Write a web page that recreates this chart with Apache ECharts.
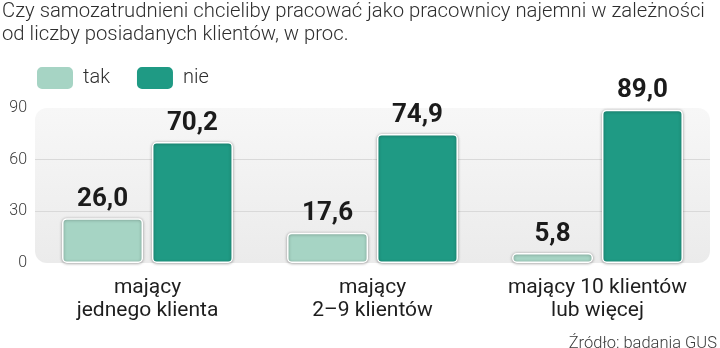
<!DOCTYPE html>
<html>
<head>
<meta charset="utf-8">
<script src="https://cdn.jsdelivr.net/npm/echarts@6/dist/echarts.min.js"></script>
<style>html,body{margin:0;padding:0;background:#fff}#c{width:720px;height:348px}</style>
</head>
<body>
<div id="c"></div>
<script>
const titleText = 'Czy samozatrudnieni chcieliby pracować jako pracownicy najemni w zależności\nod liczby posiadanych klientów, w proc.';
const sourceText = 'Źródło: badania GUS';
const categories = ['mający\njednego klienta', 'mający\n2–9 klientów', 'mający 10 klientów\nlub więcej'];
const seriesNames = ['tak', 'nie'];
const takValues = [26.0, 17.6, 5.8];
const nieValues = [70.2, 74.9, 89.0];
const yTicks = [0, 30, 60, 90];

const G = {left: 35, right: 10, top: 108, bottom: 85};
const chart = echarts.init(document.getElementById('c'), null, {renderer: 'canvas'});
const FONT = 'Roboto, "Noto Sans", sans-serif';
const barStyle = (color) => ({
  color: color,
  borderColor: '#ffffff',
  borderWidth: 1.5,
  borderRadius: 4,
  shadowBlur: 3,
  shadowColor: 'rgba(0,0,0,0.35)',
  shadowOffsetY: 0.5
});
const labelCfg = {
  show: true,
  position: 'top',
  distance: 6,
  fontFamily: 'Roboto, sans-serif',
  fontWeight: 'bold',
  fontSize: 26,
  color: '#1b1b1b',
  formatter: p => p.value.toFixed(1).replace('.', ',')
};
chart.setOption({
  animation: false,
  title: [
    {text: titleText, left: 2, top: 0, padding: 0, textStyle: {fontFamily: FONT, fontWeight: 300, fontSize: 20.3, lineHeight: 23, color: '#2e2e2e'}},
    {text: sourceText, right: 3, bottom: -4, padding: 0, textStyle: {fontFamily: FONT, fontWeight: 300, fontSize: 16.5, color: '#3a3a3a'}}
  ],
  graphic: [{
    type: 'rect', z: -10, silent: true,
    shape: {x: G.left, y: G.top, width: 720 - G.left - G.right, height: 348 - G.top - G.bottom, r: 12},
    style: {fill: new echarts.graphic.LinearGradient(0, 0, 0, 1, [
      {offset: 0, color: '#f7f7f7'}, {offset: 1, color: '#ebebeb'}])}
  }],
  legend: {
    left: 35, top: 65, padding: 0, itemWidth: 38, itemHeight: 24, itemGap: 25,
    icon: 'roundRect',
    textStyle: {fontFamily: FONT, fontWeight: 300, fontSize: 20, color: '#2e2e2e', padding: [0, 0, 0, 4]},
    data: seriesNames
  },
  grid: {left: G.left, right: G.right, top: G.top, bottom: G.bottom, containLabel: false},
  xAxis: {
    type: 'category', data: categories,
    axisLine: {show: false}, axisTick: {show: false},
    axisLabel: {fontFamily: FONT, fontSize: 21, lineHeight: 23, color: '#1e1e1e', margin: 13, interval: 0}
  },
  yAxis: {
    type: 'value', min: yTicks[0], max: yTicks[yTicks.length - 1], interval: 30,
    axisLine: {show: false}, axisTick: {show: false},
    axisLabel: {fontFamily: FONT, fontWeight: 300, fontSize: 16, color: '#3a3a3a', margin: 8},
    splitLine: {show: true, lineStyle: {color: ['rgba(0,0,0,0)', '#d9d9d9', '#d9d9d9', 'rgba(0,0,0,0)'], width: 1}}
  },
  series: [
    {name: seriesNames[0], type: 'bar', data: takValues, barWidth: '36%', barGap: '11%', itemStyle: barStyle('#a6d4c4'), label: labelCfg},
    {name: seriesNames[1], type: 'bar', data: nieValues, barWidth: '36%', barGap: '11%', itemStyle: barStyle('#1f9a84'), label: labelCfg}
  ]
});
</script>
</body>
</html>
